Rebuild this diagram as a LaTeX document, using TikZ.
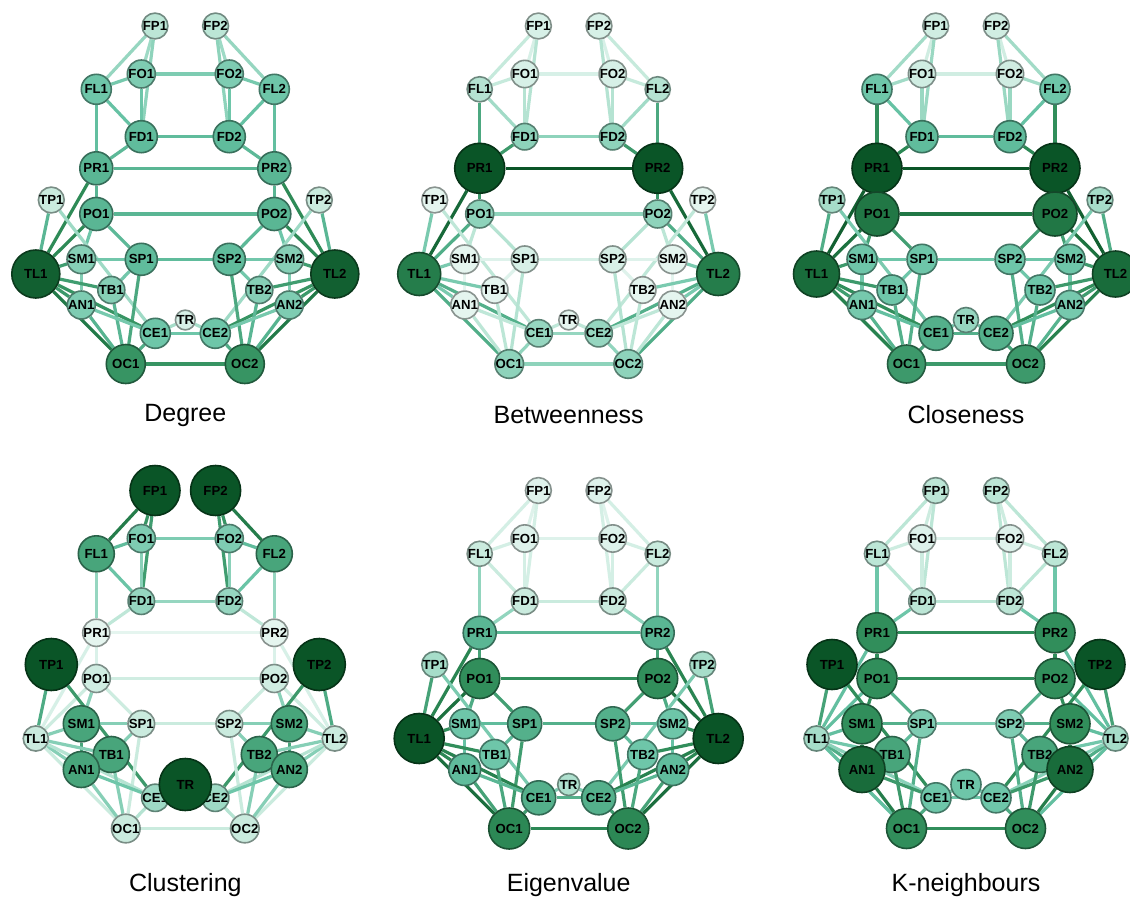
\documentclass[tikz,border=0pt]{standalone}
\usepackage{fontspec}
\setmainfont{Liberation Sans}
\pgfdeclarelayer{paper}
\pgfdeclarelayer{edges}
\pgfsetlayers{paper,edges,main}

% five-stop green scale (light to dark)
\definecolor{s0}{HTML}{F2FAF7}
\definecolor{s1}{HTML}{B2E2D0}
\definecolor{s2}{HTML}{66C2A4}
\definecolor{s3}{HTML}{2E8B57}
\definecolor{s4}{HTML}{0A5527}

% \mixscale{colour}{value in [0,1]}
\newcommand\mixscale[2]{%
  \pgfmathsetmacro\cval{4*max(0,min(1,#2))}%
  \pgfmathtruncatemacro\cseg{min(\cval,3.999)}%
  \pgfmathtruncatemacro\cpct{round(100*(1-(\cval-\cseg)))}%
  \ifcase\cseg\relax
    \colorlet{#1}{s0!\cpct!s1}%
  \or \colorlet{#1}{s1!\cpct!s2}%
  \or \colorlet{#1}{s2!\cpct!s3}%
  \else \colorlet{#1}{s3!\cpct!s4}%
  \fi}

\newcommand\nodefont{\fontsize{13.2}{14}\selectfont\bfseries}

\tikzset{
  region/.style={circle, inner sep=0pt, text=black, font=\nodefont, line width=1.6pt},
  link/.style={line width=3.2pt},
  paneltitle/.style={font=\fontsize{25}{28}\selectfont, text=black}
}

% half-width offset from the axis / vertical position of each region pair
\def\layout{FP/30.3/26, FO/44/74, FL/89/89.3, FD/44/136.7, PR/89/168.3,
  TP/134/200, PO/89/214, SM/104/259.3, SP/44/259.3, TL/149.5/274,
  TB/74/290, AN/104/305, CE/30/333.3, OC/59.5/364}

% \regionnode{node name}{label}{position}
\newcommand\regionnode[3]{%
  \edef\rr{\csname rad@#2\endcsname}%
  \pgfmathsetmacro\vv{(\rr-6)/19}%
  \mixscale{nfill}{\vv}%
  \node[region, minimum size=2*\rr, fill=nfill, draw=nfill!60!black] (#1) at #3 {#2};}

% \regionedge{prefix}{u}{w}
\newcommand\regionedge[3]{%
  \edef\ra{\csname rad@#2\endcsname}\edef\rb{\csname rad@#3\endcsname}%
  \edef\na{#1#2}\edef\nb{#1#3}%
  \pgfmathsetmacro\vv{((\ra+\rb)/2-6)/19}%
  \mixscale{ecol}{\vv}%
  \draw[link, draw=ecol] (\na) -- (\nb);}

% \drawpanel{prefix}{centre x}{shift y}{title}{title y}{radii}
\newcommand\drawpanel[6]{%
  \foreach \n/\r in {#6}{%
    \expandafter\xdef\csname rad@\n\endcsname{\r}%
    \expandafter\xdef\csname rad@\n1\endcsname{\r}%
    \expandafter\xdef\csname rad@\n2\endcsname{\r}}%
  \begin{scope}[shift={(#2,#3)}]
    \foreach \n/\dx/\yy in \layout {%
      \regionnode{#1\n1}{\n1}{(-\dx,\yy)}%
      \regionnode{#1\n2}{\n2}{(\dx,\yy)}}%
    \regionnode{#1TR}{TR}{(0,320)}%
    \begin{pgfonlayer}{edges}
      \foreach \u/\w in {FP/FL, FP/FO, FP/FD, FL/FO, FL/FD, FL/PR, FO/FD,
          FD/PR, PR/PO, PR/TL, PO/TL, PO/SM, PO/SP, TP/TL, TP/CE, SM/TL,
          SM/SP, SM/AN, SP/TB, SP/OC, TL/TB, TL/AN, TL/CE, TL/OC, TB/OC,
          AN/OC, AN/CE, CE/OC}{%
        \regionedge{#1}{\u1}{\w1}\regionedge{#1}{\u2}{\w2}}%
      \foreach \u in {FO, FD, PR, PO, SP, CE, OC}{\regionedge{#1}{\u1}{\u2}}%
      \regionedge{#1}{TR}{CE1}\regionedge{#1}{TR}{CE2}%
    \end{pgfonlayer}
  \end{scope}
  \node[paneltitle] (#1title) at (#2,#5) {#4};}

\begin{document}
\begin{tikzpicture}[x=1pt,y=-1pt]
\useasboundingbox (0,0) rectangle (1130,902);
\clip (0,0) rectangle (1130,902);
\begin{pgfonlayer}{paper}
  \fill[white] (0,0) rectangle (1130,902);
\end{pgfonlayer}

\drawpanel{a}{185.3}{0}{Degree}{415}{FP/10, FO/14, FL/15, FD/16, PR/16.5,
  TP/9, PO/16.5, SM/13.5, SP/16, TL/24, TB/13.5, AN/14, TR/8, CE/15, OC/19.5}
\drawpanel{b}{568.7}{0}{Betweenness}{415}{FP/8, FO/8, FL/10.5, FD/13, PR/25,
  TP/7, PO/13, SM/7, SP/8, TL/21.5, TB/7, AN/7, TR/7, CE/12.5, OC/13}
\drawpanel{c}{966}{0}{Closeness}{415}{FP/8.5, FO/8.5, FL/15, FD/16, PR/25,
  TP/11.5, PO/22, SM/15, SP/15, TL/23, TB/15, AN/14.5, TR/12.5, CE/17, OC/19}
\drawpanel{d}{185.3}{464.5}{Clustering}{885}{FP/25, FO/14, FL/18, FD/12.5, PR/7,
  TP/26, PO/8.5, SM/18, SP/9, TL/9, TB/18, AN/18, TR/26, CE/12, OC/9}
\drawpanel{e}{568.7}{464.5}{Eigenvalue}{885}{FP/7.5, FO/7.5, FL/9, FD/9, PR/16.5,
  TP/11.5, PO/20, SM/15, SP/17, TL/25, TB/15, AN/16, TR/11, CE/17, OC/20.5}
\drawpanel{f}{966}{464.5}{K-neighbours}{885}{FP/10, FO/7.5, FL/10, FD/10, PR/20,
  TP/25, PO/20, SM/20, SP/14, TL/11.5, TB/18, AN/23, TR/15, CE/15, OC/20}
\end{tikzpicture}
\end{document}
